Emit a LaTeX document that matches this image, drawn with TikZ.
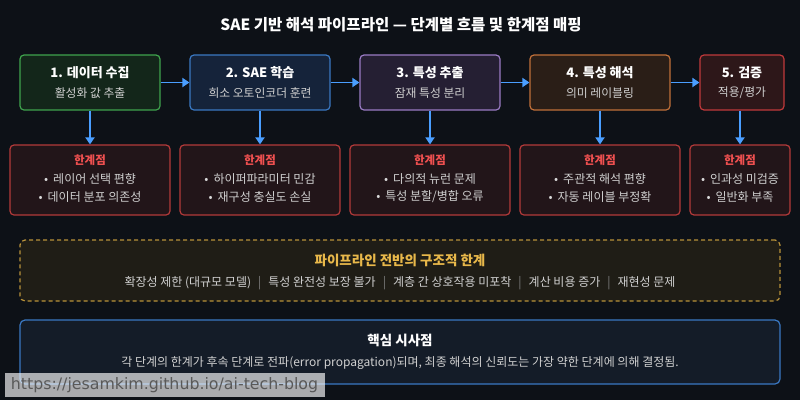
\documentclass[tikz,border=0pt]{standalone}
\usepackage{fontspec}
\setmainfont{Noto Sans CJK KR}
\newfontfamily\wmfont{DejaVu Sans}
\usetikzlibrary{arrows.meta}
\definecolor{bg}{HTML}{0D1117}
\definecolor{arr}{HTML}{4A9EFF}
\definecolor{gB}{HTML}{3FA34D}\definecolor{gF}{HTML}{13261A}
\definecolor{bB}{HTML}{3A78C2}\definecolor{bF}{HTML}{15233A}
\definecolor{pB}{HTML}{9A7BC4}\definecolor{pF}{HTML}{251F33}
\definecolor{oB}{HTML}{C0703A}\definecolor{oF}{HTML}{2A1E17}
\definecolor{rB}{HTML}{C0393B}\definecolor{rF}{HTML}{2D1719}
\definecolor{lB}{HTML}{B33A3A}\definecolor{lF}{HTML}{221519}
\definecolor{lT}{HTML}{F05050}
\definecolor{txt}{HTML}{D0D0D0}
\definecolor{gold}{HTML}{E8B84A}\definecolor{goldB}{HTML}{B8923A}\definecolor{goldF}{HTML}{1F1D16}
\definecolor{kB}{HTML}{3A78C2}\definecolor{kF}{HTML}{141C28}
\newcommand{\sepbar}{\hspace{7pt}{\color{gray}|}\hspace{7pt}}
\begin{document}
\begin{tikzpicture}[x=1pt,y=-1pt,
  stagebox/.style={draw, line width=1.2pt, rounded corners=4pt, minimum height=55pt},
  limbox/.style={draw=lB, fill=lF, line width=1.2pt, rounded corners=4pt, minimum height=70pt},
  sttl/.style={text=white, font=\bfseries\fontsize{13}{15}\selectfont},
  ssub/.style={text=txt, font=\fontsize{11.8}{13}\selectfont},
  lttl/.style={text=lT, font=\bfseries\fontsize{11.5}{13}\selectfont},
  litem/.style={text=txt, font=\fontsize{12}{14}\selectfont},
  flow/.style={draw=arr, line width=1.8pt, -{Triangle[length=7pt,width=9pt]}},
]
\fill[bg] (0,0) rectangle (800,400);
\useasboundingbox (0,0) rectangle (800,400);

\node[text=white, font=\bfseries\fontsize{15.5}{17}\selectfont] (title) at (401,25) {SAE 기반 해석 파이프라인 — 단계별 흐름 및 한계점 매핑};

% stage boxes
\node[stagebox, draw=gB, fill=gF, minimum width=140pt] (s1) at (90,82.5) {};
\node[stagebox, draw=bB, fill=bF, minimum width=140pt] (s2) at (260,82.5) {};
\node[stagebox, draw=pB, fill=pF, minimum width=140pt] (s3) at (430,82.5) {};
\node[stagebox, draw=oB, fill=oF, minimum width=140pt] (s4) at (600,82.5) {};
\node[stagebox, draw=rB, fill=rF, minimum width=84pt] (s5) at (742,82.5) {};

\node[sttl] (t1) at (90,73) {1. 데이터 수집};
\node[ssub] (u1) at (90,93) {활성화 값 추출};
\node[sttl] (t2) at (260,73) {2. SAE 학습};
\node[ssub] (u2) at (260,93) {희소 오토인코더 훈련};
\node[sttl] (t3) at (430,73) {3. 특성 추출};
\node[ssub] (u3) at (430,93) {잠재 특성 분리};
\node[sttl] (t4) at (600,73) {4. 특성 해석};
\node[ssub] (u4) at (600,93) {의미 레이블링};
\node[sttl] (t5) at (742,73) {5. 검증};
\node[ssub] (u5) at (742,93) {적용/평가};

% limitation boxes
\node[limbox, minimum width=160pt] (l1) at (90,180) {};
\node[limbox, minimum width=160pt] (l2) at (260,180) {};
\node[limbox, minimum width=160pt] (l3) at (430,180) {};
\node[limbox, minimum width=160pt] (l4) at (600,180) {};
\node[limbox, minimum width=100pt] (l5) at (740,180) {};

\foreach \n/\cx/\a/\b in {1/90/{레이어 선택 편향}/{데이터 분포 의존성},
  2/260/{하이퍼파라미터 민감}/{재구성 충실도 손실},
  3/430/{다의적 뉴런 문제}/{특성 분할{/}병합 오류},
  4/600/{주관적 해석 편향}/{자동 레이블 부정확},
  5/740/{인과성 미검증}/{일반화 부족}}{
  \node[lttl] (lt\n) at (\cx,160.5) {한계점};
  \node[litem] (la\n) at (\cx,179) {{\color{txt!80}•}\hspace{5pt}\a};
  \node[litem] (lb\n) at (\cx,197) {{\color{txt!80}•}\hspace{5pt}\b};
}

% arrows
\draw[flow] (s1.east) -- (s2.west);
\draw[flow] (s2.east) -- (s3.west);
\draw[flow] (s3.east) -- (s4.west);
\draw[flow] (s4.east) -- (s5.west);
\draw[flow] (s1.south) -- (l1.north);
\draw[flow] (s2.south) -- (l2.north);
\draw[flow] (s3.south) -- (l3.north);
\draw[flow] (s4.south) -- (l4.north);
\draw[flow] (s5.south -| l5.north) -- (l5.north);

% structural limitations
\node[draw=goldB, fill=goldF, line width=1.2pt, dashed, dash pattern=on 4pt off 3pt, rounded corners=5pt, minimum width=760pt, minimum height=61pt] (sl) at (400,270.5) {};
\node[text=gold, font=\bfseries\fontsize{13.5}{15}\selectfont] (slt) at (400,260.5) {파이프라인 전반의 구조적 한계};
\node[text=txt, font=\fontsize{12}{14}\selectfont] (sli) at (400,283) {확장성 제한 (대규모 모델)\sepbar 특성 완전성 보장 불가\sepbar 계층 간 상호작용 미포착\sepbar 계산 비용 증가\sepbar 재현성 문제};

% key implications
\node[draw=kB, fill=kF, line width=1.2pt, rounded corners=5pt, minimum width=760pt, minimum height=64pt] (ki) at (400,352) {};
\node[text=white, font=\bfseries\fontsize{13.5}{15}\selectfont] (kit) at (400,340.5) {핵심 시사점};
\node[text=txt, font=\fontsize{12}{14}\selectfont] (kix) at (400,362.5) {각 단계의 한계가 후속 단계로 전파(error propagation)되며, 최종 해석의 신뢰도는 가장 약한 단계에 의해 결정됨.};

% watermark
\node[fill=white, fill opacity=0.65, text opacity=1, text=black!65, inner sep=0pt, minimum width=320pt, minimum height=24pt, font=\wmfont\fontsize{15.8}{18}\selectfont] (wm) at (164.5,385) {https://jesamkim.github.io/ai-tech-blog};
\end{tikzpicture}
\end{document}
